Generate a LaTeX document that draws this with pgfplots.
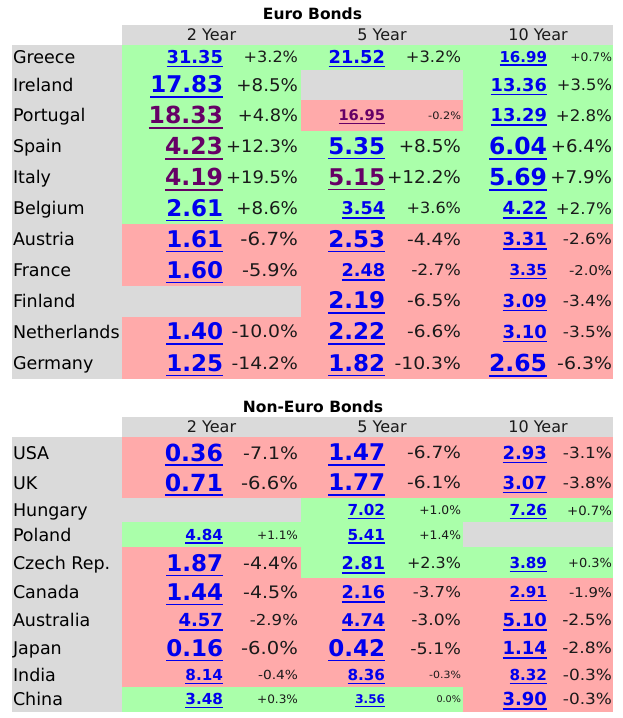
\documentclass[border=0pt]{standalone}
\usepackage{pgfplots}
\pgfplotsset{compat=1.18}
\usepackage{fontspec}
\setmainfont{DejaVu Sans}
\definecolor{gbg}{HTML}{AAFFAA}
\definecolor{pbg}{HTML}{FFAAAA}
\definecolor{cgray}{HTML}{DADADA}
\definecolor{lblue}{HTML}{0000EE}
\definecolor{lpurp}{HTML}{660066}
\definecolor{ptxt}{HTML}{1A1A1A}
\newsavebox\ulbox
\newcommand\ul[1]{\sbox\ulbox{#1}\rlap{\rule[-0.22em]{\wd\ulbox}{0.08em}}\usebox\ulbox}
\newcommand\Num[2]{\fontsize{#1}{#1}\selectfont\bfseries\raisebox{-0.32em}{\ul{#2}}}
\newcommand\Pct[2]{\pgfmathsetmacro\fs{#1*1.03}\fontsize{\fs}{\fs}\selectfont\raisebox{-0.32em}{\scalebox{1.04}[1]{#2\%}}}
\newcommand\Mct[2]{\pgfmathsetmacro\fs{#1*1.06}\fontsize{\fs}{\fs}\selectfont\raisebox{-0.32em}{\scalebox{1.1}[1]{#2\%}}}
\newcommand\Txt[2]{\fontsize{#1}{#1}\selectfont\raisebox{-0.32em}{#2}}
\newcommand\Ttl[2]{\fontsize{#1}{#1}\selectfont\bfseries #2}
\newcommand\R[5]{\addplot[fill=#5, draw=none, forget plot] coordinates {(#1,#3) (#2,#3) (#2,#4) (#1,#4)};}
\begin{document}
\begin{tikzpicture}
\begin{axis}[width=622pt, height=718pt, scale only axis,
  xmin=0, xmax=622, ymin=0, ymax=718, y dir=reverse,
  hide axis, clip=false,
  txt/.style={draw=none, mark=none, forget plot, point meta=explicit symbolic, nodes near coords,
    every node near coord/.append style={inner sep=0pt, outer sep=0pt}},
]
\addplot[draw=none, mark=none, forget plot] coordinates {(0,0) (622,718)};
% ---- Euro backgrounds
\R{122}{613}{25}{45}{cgray}
\R{12}{122}{45}{379}{cgray}
\R{122}{613}{45}{224}{gbg}
\R{301}{463}{70}{100}{cgray}
\R{301}{463}{100}{131}{pbg}
\R{122}{613}{224}{379}{pbg}
\R{122}{301}{286}{317}{cgray}
% ---- Non-Euro backgrounds
\R{122}{613}{417}{437}{cgray}
\R{12}{122}{437}{712}{cgray}
\R{122}{613}{437}{712}{pbg}
\R{301}{613}{498}{547}{gbg}
\R{122}{301}{498}{522}{cgray}
\R{122}{301}{522}{547}{gbg}
\R{463}{613}{522}{547}{cgray}
\R{301}{613}{547}{578}{gbg}
\R{122}{463}{687}{712}{gbg}
% ---- titles
\addplot[txt, every node near coord/.append style={anchor=base, text=black}] coordinates {
 (312.5,19) [{\Ttl{15.5}{Euro Bonds}}]
 (313,412) [{\Ttl{15.5}{Non-Euro Bonds}}]
};
% ---- headers
\addplot[txt, every node near coord/.append style={anchor=base, text=ptxt}] coordinates {
 (211.5,35) [{\Txt{16}{2 Year}}]
 (382,35) [{\Txt{16}{5 Year}}]
 (538,35) [{\Txt{16}{10 Year}}]
 (211.5,427) [{\Txt{16}{2 Year}}]
 (382,427) [{\Txt{16}{5 Year}}]
 (538,427) [{\Txt{16}{10 Year}}]
};
% ---- country names
\addplot[txt, every node near coord/.append style={anchor=base west, text=black}] coordinates {
 (13,57.5) [{\Txt{17.5}{Greece}}]
 (13,85.5) [{\Txt{17.5}{Ireland}}]
 (13,116) [{\Txt{17.5}{Portugal}}]
 (13,147) [{\Txt{17.5}{Spain}}]
 (13,178) [{\Txt{17.5}{Italy}}]
 (13,209) [{\Txt{17.5}{Belgium}}]
 (13,240) [{\Txt{17.5}{Austria}}]
 (13,271) [{\Txt{17.5}{France}}]
 (13,301.5) [{\Txt{17.5}{Finland}}]
 (13,332.5) [{\Txt{17.5}{Netherlands}}]
 (13,364) [{\Txt{17.5}{Germany}}]
 (13,453.5) [{\Txt{17.5}{USA}}]
 (13,483.5) [{\Txt{17.5}{UK}}]
 (13,511) [{\Txt{17.5}{Hungary}}]
 (13,535.5) [{\Txt{17.5}{Poland}}]
 (13,564) [{\Txt{17.5}{Czech Rep.}}]
 (13,593) [{\Txt{17.5}{Canada}}]
 (13,621) [{\Txt{17.5}{Australia}}]
 (13,649) [{\Txt{17.5}{Japan}}]
 (13,675.5) [{\Txt{17.5}{India}}]
 (13,700) [{\Txt{17.5}{China}}]
};
% ---- blue yields
\addplot[txt, every node near coord/.append style={anchor=base east, text=lblue}] coordinates {
 (223,57.5) [{\Num{17.8}{31.35}}]
 (223,85.5) [{\Num{23}{17.83}}]
 (223,209) [{\Num{23}{2.61}}]
 (223,240) [{\Num{23}{1.61}}]
 (223,271) [{\Num{23}{1.60}}]
 (223,332.5) [{\Num{23}{1.40}}]
 (223,364) [{\Num{23}{1.25}}]
 (385,57.5) [{\Num{17.8}{21.52}}]
 (385,147) [{\Num{23}{5.35}}]
 (385,209) [{\Num{17.6}{3.54}}]
 (385,240) [{\Num{23}{2.53}}]
 (385,271) [{\Num{17.6}{2.48}}]
 (385,301.5) [{\Num{23}{2.19}}]
 (385,332.5) [{\Num{23}{2.22}}]
 (385,364) [{\Num{23}{1.82}}]
 (547,57.5) [{\Num{15}{16.99}}]
 (547,85.5) [{\Num{17.8}{13.36}}]
 (547,116) [{\Num{17.8}{13.29}}]
 (547,147) [{\Num{23.5}{6.04}}]
 (547,178) [{\Num{23.5}{5.69}}]
 (547,209) [{\Num{18}{4.22}}]
 (547,240) [{\Num{18}{3.31}}]
 (547,271) [{\Num{15.2}{3.35}}]
 (547,301.5) [{\Num{18}{3.09}}]
 (547,332.5) [{\Num{18}{3.10}}]
 (547,364) [{\Num{23.5}{2.65}}]
 (223,453.5) [{\Num{23.6}{0.36}}]
 (223,483.5) [{\Num{23.6}{0.71}}]
 (223,535.5) [{\Num{15.2}{4.84}}]
 (223,564) [{\Num{23}{1.87}}]
 (223,593) [{\Num{23}{1.44}}]
 (223,621) [{\Num{18}{4.57}}]
 (223,649) [{\Num{23}{0.16}}]
 (223,675.5) [{\Num{15.2}{8.14}}]
 (223,700) [{\Num{15.2}{3.48}}]
 (385,453.5) [{\Num{23}{1.47}}]
 (385,483.5) [{\Num{23}{1.77}}]
 (385,511) [{\Num{15.2}{7.02}}]
 (385,535.5) [{\Num{15.2}{5.41}}]
 (385,564) [{\Num{17.6}{2.81}}]
 (385,593) [{\Num{17.6}{2.16}}]
 (385,621) [{\Num{17.6}{4.74}}]
 (385,649) [{\Num{23}{0.42}}]
 (385,675.5) [{\Num{15.2}{8.36}}]
 (385,700) [{\Num{12}{3.56}}]
 (547,453.5) [{\Num{18}{2.93}}]
 (547,483.5) [{\Num{18}{3.07}}]
 (547,511) [{\Num{15.2}{7.26}}]
 (547,564) [{\Num{15.2}{3.89}}]
 (547,593) [{\Num{15.2}{2.91}}]
 (547,621) [{\Num{18}{5.10}}]
 (547,649) [{\Num{18}{1.14}}]
 (547,675.5) [{\Num{15.2}{8.32}}]
 (547,700) [{\Num{18}{3.90}}]
};
% ---- purple (visited) yields
\addplot[txt, every node near coord/.append style={anchor=base east, text=lpurp}] coordinates {
 (223,116) [{\Num{23.5}{18.33}}]
 (223,147) [{\Num{23.5}{4.23}}]
 (223,178) [{\Num{23.5}{4.19}}]
 (385,116) [{\Num{14.7}{16.95}}]
 (385,178) [{\Num{23}{5.15}}]
};
% ---- percentage changes
\addplot[txt, every node near coord/.append style={anchor=base east, text=ptxt}] coordinates {
 (298,57.5) [{\Pct{15}{+3.2}}]
 (298,85.5) [{\Pct{17}{+8.5}}]
 (298,116) [{\Pct{16.6}{+4.8}}]
 (298,147) [{\Pct{16.7}{+12.3}}]
 (298,178) [{\Pct{16.7}{+19.5}}]
 (298,209) [{\Pct{17}{+8.6}}]
 (298,240) [{\Mct{17}{-6.7}}]
 (298,271) [{\Mct{16.5}{-5.9}}]
 (298,332.5) [{\Mct{16.1}{-10.0}}]
 (298,364) [{\Mct{16.1}{-14.2}}]
 (461,57.5) [{\Pct{15.2}{+3.2}}]
 (461,116) [{\Mct{9.7}{-0.2}}]
 (461,147) [{\Pct{17.2}{+8.5}}]
 (461,178) [{\Pct{17.2}{+12.2}}]
 (461,209) [{\Pct{15}{+3.6}}]
 (461,240) [{\Mct{15.9}{-4.4}}]
 (461,271) [{\Mct{14.7}{-2.7}}]
 (461,301.5) [{\Mct{15.9}{-6.5}}]
 (461,332.5) [{\Mct{15.9}{-6.6}}]
 (461,364) [{\Mct{16.1}{-10.3}}]
 (612,57.5) [{\Pct{11.5}{+0.7}}]
 (612,85.5) [{\Pct{15.2}{+3.5}}]
 (612,116) [{\Pct{15.5}{+2.8}}]
 (612,147) [{\Pct{16.9}{+6.4}}]
 (612,178) [{\Pct{17}{+7.9}}]
 (612,209) [{\Pct{15.5}{+2.7}}]
 (612,240) [{\Mct{14.5}{-2.6}}]
 (612,271) [{\Mct{12.7}{-2.0}}]
 (612,301.5) [{\Mct{14.5}{-3.4}}]
 (612,332.5) [{\Mct{14.5}{-3.5}}]
 (612,364) [{\Mct{16.2}{-6.3}}]
 (298,453.5) [{\Mct{16.2}{-7.1}}]
 (298,483.5) [{\Mct{16.8}{-6.6}}]
 (298,535.5) [{\Pct{11.3}{+1.1}}]
 (298,564) [{\Mct{16.2}{-4.4}}]
 (298,593) [{\Mct{16.2}{-4.5}}]
 (298,621) [{\Mct{14.2}{-2.9}}]
 (298,649) [{\Mct{16.8}{-6.0}}]
 (298,675.5) [{\Mct{11.8}{-0.4}}]
 (298,700) [{\Pct{11.3}{+0.3}}]
 (461,453.5) [{\Mct{15.9}{-6.7}}]
 (461,483.5) [{\Mct{15.9}{-6.1}}]
 (461,511) [{\Pct{11.5}{+1.0}}]
 (461,535.5) [{\Pct{11.5}{+1.4}}]
 (461,564) [{\Pct{14.9}{+2.3}}]
 (461,593) [{\Mct{14.2}{-3.7}}]
 (461,621) [{\Mct{14.7}{-3.0}}]
 (461,649) [{\Mct{15}{-5.1}}]
 (461,675.5) [{\Mct{9.4}{-0.3}}]
 (461,700) [{\Pct{9}{0.0}}]
 (612,453.5) [{\Mct{14.5}{-3.1}}]
 (612,483.5) [{\Mct{14.5}{-3.8}}]
 (612,511) [{\Pct{12.4}{+0.7}}]
 (612,564) [{\Pct{12.1}{+0.3}}]
 (612,593) [{\Mct{12.7}{-1.9}}]
 (612,621) [{\Mct{14.7}{-2.5}}]
 (612,649) [{\Mct{14.7}{-2.8}}]
 (612,675.5) [{\Mct{14.5}{-0.3}}]
 (612,700) [{\Mct{14.5}{-0.3}}]
};
\end{axis}
\end{tikzpicture}
\end{document}
